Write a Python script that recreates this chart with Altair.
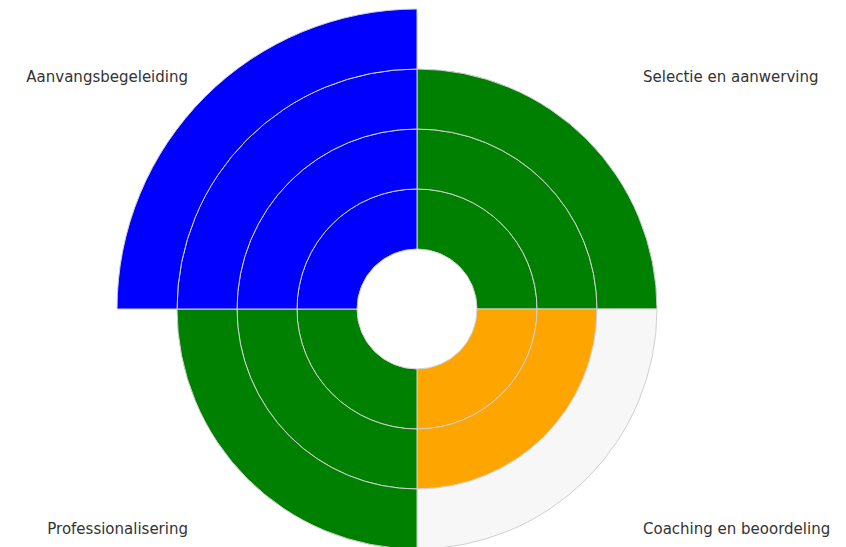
import altair as alt
import pandas as pd

# Data
categories = ["Selectie en aanwerving", "Coaching en beoordeling", "Professionalisering", "Aanvangsbegeleiding"]
scores = [3, 2, 3, 4]          # achieved level per domain
targets = [3, 3, 3, 4]         # level shown (open part in light grey)

rows = []
for i, (cat, s, t) in enumerate(zip(categories, scores, targets)):
    for lvl in range(1, t + 1):
        rows.append({
            "categorie": cat,
            "start": i,
            "end": i + 1,
            "inner": lvl,
            "outer": lvl + 1,
            "status": str(s) if lvl <= s else "open",
        })
df = pd.DataFrame(rows)

CX, CY = 409, 301

arcs = alt.Chart(df).mark_arc(stroke="#d0d0d0", strokeWidth=1).encode(
    theta=alt.Theta("start:Q", stack=None, scale=alt.Scale(domain=[0, 4], range=[0, 6.283185307179586])),
    theta2="end:Q",
    radius=alt.Radius("outer:Q", scale=alt.Scale(type="linear", domain=[0, 5], range=[0, 300], zero=True)),
    radius2="inner:Q",
    color=alt.Color("status:N", legend=None,
                    scale=alt.Scale(domain=["2", "3", "4", "open"],
                                    range=["#ffa500", "#008000", "#0000ff", "#f7f7f7"])),
    x=alt.value(CX),
    y=alt.value(CY),
)

lab_df = pd.DataFrame({"categorie": categories})

def label(cat, x, y, align):
    return alt.Chart(lab_df).transform_filter(
        alt.datum.categorie == cat
    ).mark_text(font="DejaVu Sans", fontSize=15, color="#333333",
                align=align, baseline="middle").encode(
        text="categorie:N", x=alt.value(x), y=alt.value(y)
    )

labels = [
    label(categories[0], 635, 69, "left"),
    label(categories[1], 635, 521, "left"),
    label(categories[2], 180, 521, "right"),
    label(categories[3], 180, 69, "right"),
]

chart = alt.layer(arcs, *labels).properties(
    width=830, height=539, padding=0, autosize=alt.AutoSizeParams(type="none")
).configure_view(stroke=None)

chart.save("out.html", embed_options={"renderer": "svg", "actions": False})
